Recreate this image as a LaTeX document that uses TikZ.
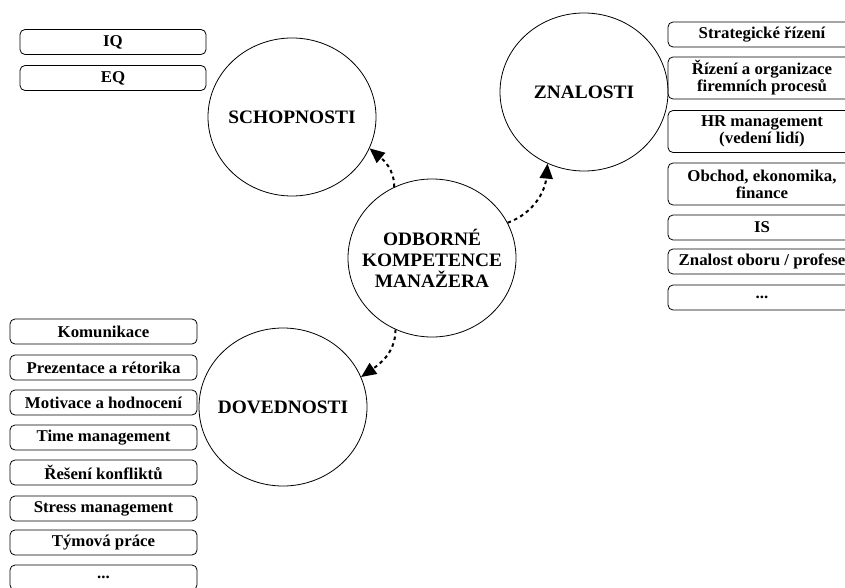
\documentclass[tikz,border=0pt]{standalone}
\usepackage{fontspec}
\setmainfont{Liberation Serif}[FakeStretch=1.02]
\usepackage{tikz}
\usetikzlibrary{shapes.geometric,arrows.meta}
\tikzset{
  kruh/.style={ellipse, draw, line width=0.8pt, minimum width=168pt, minimum height=158pt, inner sep=0pt},
  kruhtext/.style={align=center, inner sep=0pt, font=\bfseries\fontsize{19}{21}\selectfont},
  polozka/.style={draw, rounded corners=5pt, line width=0.8pt, minimum width=187pt, minimum height=25pt, align=center, inner sep=1pt, font=\bfseries\fontsize{16.5}{17}\selectfont},
  dvojita/.style={polozka, minimum height=42pt},
  vazba/.style={line width=2pt, dash pattern=on 3.5pt off 3.5pt, -{Triangle[length=15pt,width=13pt]}}
}

\begin{document}
\begin{tikzpicture}[x=1pt, y=1pt]
\clip (0,0) rectangle (845,-588);
% Stred
\node[kruh] (odb) at (432,-258) {};
\node[kruhtext] (odbT) at (odb.center) {ODBORNÉ\\KOMPETENCE\\MANAŽERA};

% Schopnosti
\node[kruh] (schop) at (292,-117) {};
\node[kruhtext] (schopT) at (schop.center) {SCHOPNOSTI};
\node[polozka, minimum width=186pt] (iq) at (113,-42) {IQ};
\node[polozka, minimum width=186pt] (eq) at (113,-78) {EQ};

% Znalosti
\node[kruh] (znal) at (584,-92) {};
\node[kruhtext] (znalT) at (znal.center) {ZNALOSTI};
\node[polozka, minimum width=188pt] (z1) at (762,-34.5) {Strategické řízení};
\node[dvojita, minimum width=188pt] (z2) at (762,-78) {Řízení a organizace\\firemních procesů};
\node[dvojita, minimum width=188pt] (z3) at (762,-131.5) {HR management\\(vedení lidí)};
\node[dvojita, minimum width=188pt] (z4) at (762,-184) {Obchod, ekonomika,\\finance};
\node[polozka, minimum width=188pt] (z5) at (762,-227.5) {IS};
\node[polozka, minimum width=188pt] (z6) at (762,-261.5) {Znalost oboru / profese};
\node[polozka, minimum width=188pt] (z7) at (762,-297.5) {...};

% Dovednosti
\node[kruh] (dov) at (283,-407) {};
\node[kruhtext] (dovT) at (dov.center) {DOVEDNOSTI};
\node[polozka] (d1) at (103.5,-331.5) {Komunikace};
\node[polozka] (d2) at (103.5,-367.5) {Prezentace a rétorika};
\node[polozka] (d3) at (103.5,-402.5) {Motivace a hodnocení};
\node[polozka] (d4) at (103.5,-437.5) {Time management};
\node[polozka] (d5) at (103.5,-472.5) {Řešení konfliktů};
\node[polozka] (d6) at (103.5,-508.5) {Stress management};
\node[polozka] (d7) at (103.5,-542.5) {Týmová práce};
\node[polozka] (d8) at (103.5,-577.5) {...};

% Vazby
\draw[vazba] (odb.118) to[out=90, in=-40] (schop.-22);
\draw[vazba] (odb.25) to[out=20, in=-95] (znal.-117);
\draw[vazba] (odb.-117) to[out=-90, in=35] (dov.21);
\end{tikzpicture}
\end{document}
